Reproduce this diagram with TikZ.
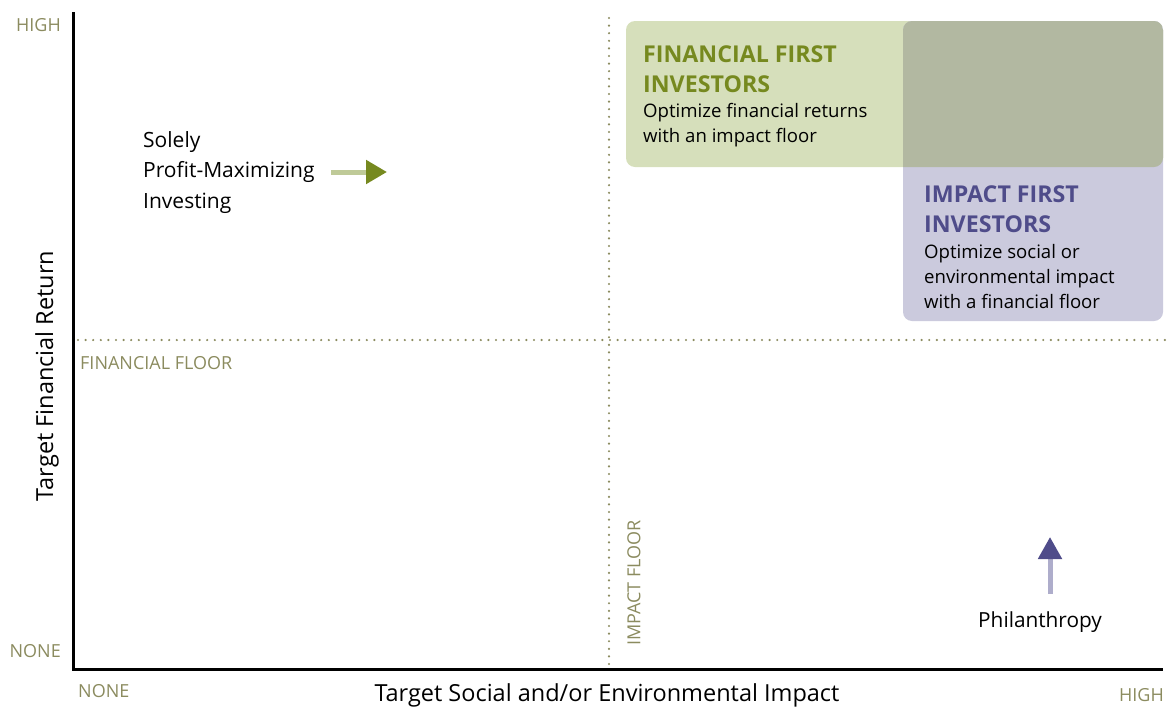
\documentclass[tikz,border=0pt]{standalone}
\usepackage{fontspec}
\setmainfont{Open Sans}
\usetikzlibrary{arrows.meta}
\definecolor{olive}{HTML}{8B8B5F}
\definecolor{greentitle}{HTML}{76891F}
\definecolor{purpletitle}{HTML}{4F4C8A}
\definecolor{greenbox}{HTML}{D6DFBB}
\definecolor{purplebox}{HTML}{CBCADD}
\definecolor{overlapbox}{HTML}{B2B8A1}
\definecolor{greenshaft}{HTML}{BFCA98}
\definecolor{purpleshaft}{HTML}{AEADCB}
\tikzset{
  axisline/.style={line width=3pt, black},
  floorline/.style={olive, line width=2.4pt, line cap=round, dash pattern=on 0pt off 7.6pt},
  ticklabel/.style={olive, font=\fontsize{18}{20}\selectfont, inner sep=0pt},
  axistitle/.style={black, font=\fontsize{23.5}{28}\selectfont, inner sep=0pt},
  bodytext/.style={black, align=left, inner sep=0pt, anchor=base west},
  headtext/.style={align=left, inner sep=0pt, anchor=base west, font=\fontsize{23.2}{30}\selectfont\bfseries},
}
\begin{document}
\begin{tikzpicture}[x=1pt,y=-1pt]
\useasboundingbox (0,0) rectangle (1168,710);
% boxes
\fill[greenbox, rounded corners=9pt] (626,21) rectangle (1163,167);
\fill[purplebox, rounded corners=9pt] (903,21) rectangle (1163,321);
\begin{scope}
  \clip[rounded corners=9pt] (626,21) rectangle (1163,167);
  \fill[overlapbox, rounded corners=9pt] (903,21) rectangle (1163,321);
\end{scope}
% coordinates
\coordinate (origin) at (73,669);
\coordinate (ytop) at (73,12);
\coordinate (xend) at (1163,669);
\coordinate (vf1) at (609,18);
\coordinate (vf2) at (609,665);
\coordinate (hf1) at (78,340);
\coordinate (hf2) at (1165,340);
% floor lines
\draw[floorline] (vf1) -- (vf2);
\draw[floorline] (hf1) -- (hf2);
% axes
\draw[axisline] (ytop) -- (origin) -- (xend);
% tick labels
\node[ticklabel, anchor=east] (yhigh) at (61,25) {HIGH};
\node[ticklabel, anchor=east] (ynone) at (61,651) {NONE};
\node[ticklabel, anchor=west] (xnone) at (78,691) {NONE};
\node[ticklabel, anchor=east] (xhigh) at (1164,695) {HIGH};
\node[ticklabel, anchor=west] (ffloor) at (80,363) {FINANCIAL FLOOR};
\node[ticklabel, anchor=west, rotate=90] (ifloor) at (634,646) {IMPACT FLOOR};
% axis titles
\node[axistitle, rotate=90] (ytitle) at (47,376) {Target Financial Return};
\node[axistitle] (xtitle) at (607,695) {Target Social and/or Environmental Impact};
% labels
\node[bodytext, font=\fontsize{21}{30.5}\selectfont] (solely) at (143,208) {Solely\\Profit-Maximizing\\Investing};
\node[headtext, greentitle] (fft) at (643,92) {FINANCIAL FIRST\\INVESTORS};
\node[bodytext, font=\fontsize{18.6}{25}\selectfont] (ffb) at (643,142) {Optimize financial returns\\with an impact floor};
\node[headtext, purpletitle] (ift) at (924,232) {IMPACT FIRST\\INVESTORS};
\node[bodytext, font=\fontsize{18.6}{25}\selectfont] (ifb) at (924,308) {Optimize social or\\environmental impact\\with a financial floor};
\node[bodytext, font=\fontsize{20.8}{24}\selectfont] (phil) at (978,627) {Philanthropy};
% arrows
\coordinate (ga1) at (331,172);
\coordinate (ga2) at (387,172);
\draw[greenshaft, line width=5pt, -{Triangle[length=21pt,width=23pt,color=greentitle]}] (ga1) -- (ga2);
\coordinate (pa1) at (1050,594);
\coordinate (pa2) at (1050,537);
\draw[purpleshaft, line width=5pt, -{Triangle[length=22pt,width=23pt,color=purpletitle]}] (pa1) -- (pa2);
\end{tikzpicture}
\end{document}
